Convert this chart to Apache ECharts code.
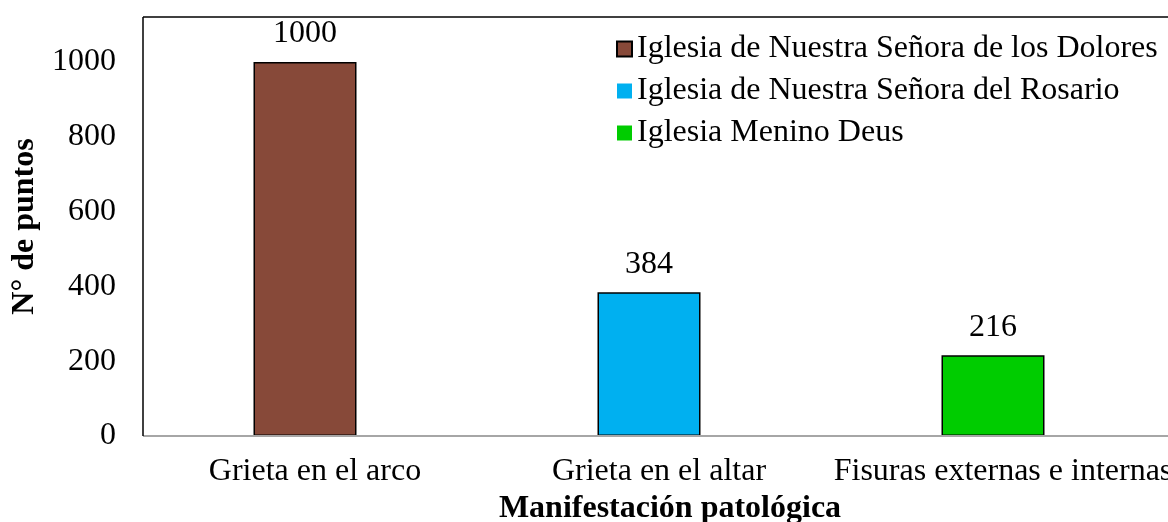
<!DOCTYPE html>
<html>
<head>
<meta charset="utf-8">
<script src="https://cdn.jsdelivr.net/npm/echarts@6/dist/echarts.min.js"></script>
<style>
  html, body { margin: 0; padding: 0; background: #fff; }
  #chart { width: 1168px; height: 522px; }
</style>
</head>
<body>
<div id="chart"></div>
<script>
const categories = ["Grieta en el arco", "Grieta en el altar", "Fisuras externas e internas"];
const seriesNames = [
  "Iglesia de Nuestra Señora de los Dolores",
  "Iglesia de Nuestra Señora del Rosario",
  "Iglesia Menino Deus"
];
const dolores = [1000, "-", "-"];
const rosario = ["-", 384, "-"];
const meninoDeus = ["-", "-", 216];
const colors = ["#874939", "#00B0F0", "#00CC00"];

const font = "'Liberation Serif', 'Times New Roman', serif";
const fs = 32;
const chart = echarts.init(document.getElementById("chart"), null, { renderer: "canvas" });

// plot frame (Excel style): black left/top border, grey baseline
const G = { left: 133, top: 17, width: 1032, height: 419 };
const frameLeft = 143;

function bar(name, data, color) {
  return {
    name,
    type: "bar",
    stack: "all",
    data,
    barWidth: 103,
    itemStyle: { color, borderColor: "#000", borderWidth: 1.5 },
    label: {
      show: true,
      position: "top",
      distance: 12,
      color: "#000",
      fontFamily: font,
      fontSize: fs
    }
  };
}

chart.setOption({
  animation: false,
  textStyle: { fontFamily: font },
  grid: {
    left: G.left, top: G.top, width: G.width, height: G.height,
    containLabel: false,
    outerBoundsMode: "none"
  },
  legend: {
    orient: "vertical",
    left: 611,
    top: 28,
    itemWidth: 15,
    itemHeight: 15,
    itemGap: 10,
    icon: "rect",
    textStyle: { fontFamily: font, fontSize: fs, color: "#000" },
    data: [
      { name: seriesNames[0] },
      { name: seriesNames[1], itemStyle: { borderWidth: 0 } },
      { name: seriesNames[2], itemStyle: { borderWidth: 0 } }
    ]
  },
  xAxis: {
    type: "category",
    data: categories,
    axisLine: { show: false },
    axisTick: { show: false },
    axisLabel: {
      color: "#000",
      fontFamily: font,
      fontSize: fs,
      margin: 20,
      interval: 0,
      padding: [0, 0, 0, 20]
    },
    name: "Manifestación patológica",
    nameLocation: "middle",
    nameGap: 54,
    nameTextStyle: {
      fontFamily: font,
      fontSize: fs,
      fontWeight: "bold",
      color: "#000",
      padding: [0, 0, 0, 42]
    }
  },
  yAxis: {
    type: "value",
    min: 0,
    max: 1120,
    interval: 200,
    offset: -10,
    axisLine: { show: false },
    axisTick: { show: false },
    splitLine: { show: false },
    axisLabel: {
      color: "#000",
      fontFamily: font,
      fontSize: fs,
      margin: 27,
      showMaxLabel: false,
      formatter: (v) => String(v)
    },
    name: "N° de puntos",
    nameLocation: "middle",
    nameGap: 97,
    nameTextStyle: {
      fontFamily: font,
      fontSize: fs,
      fontWeight: "bold",
      color: "#000"
    }
  },
  graphic: [
    {
      type: "line",
      z: 10,
      shape: { x1: frameLeft, y1: G.top + G.height, x2: G.left + G.width + 20, y2: G.top + G.height },
      style: { stroke: "#A6A6A6", lineWidth: 2 }
    },
    {
      type: "line",
      z: 10,
      shape: { x1: frameLeft, y1: G.top, x2: frameLeft, y2: G.top + G.height },
      style: { stroke: "#000", lineWidth: 1.5 }
    },
    {
      type: "line",
      z: 10,
      shape: { x1: frameLeft, y1: G.top, x2: G.left + G.width + 20, y2: G.top },
      style: { stroke: "#000", lineWidth: 1.5 }
    }
  ],
  series: [
    bar(seriesNames[0], dolores, colors[0]),
    bar(seriesNames[1], rosario, colors[1]),
    bar(seriesNames[2], meninoDeus, colors[2])
  ]
});
</script>
</body>
</html>
